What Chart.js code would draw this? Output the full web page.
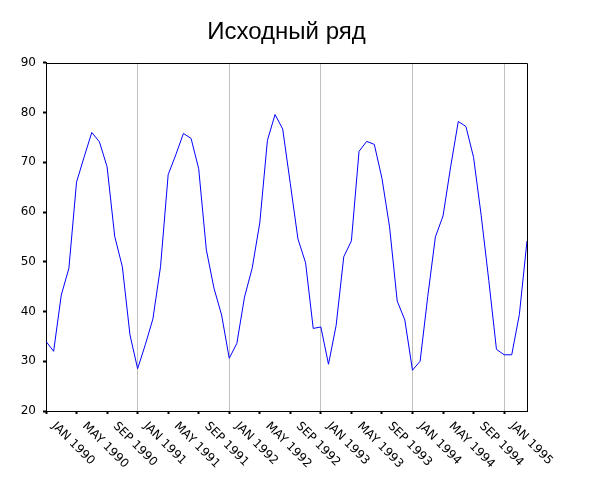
<!DOCTYPE html>
<html>
<head>
<meta charset="utf-8">
<script src="https://cdn.jsdelivr.net/npm/chart.js@4/dist/chart.umd.min.js"></script>
<style>
  html, body { margin: 0; padding: 0; background: #ffffff; }
  #wrap { width: 600px; height: 480px; position: relative; }
</style>
</head>
<body>
<div id="wrap"><canvas id="c"></canvas></div>
<script>
const titleText = 'Исходный ряд';

const months = [
  'JAN 1990','FEB 1990','MAR 1990','APR 1990','MAY 1990','JUN 1990','JUL 1990','AUG 1990','SEP 1990','OCT 1990','NOV 1990','DEC 1990',
  'JAN 1991','FEB 1991','MAR 1991','APR 1991','MAY 1991','JUN 1991','JUL 1991','AUG 1991','SEP 1991','OCT 1991','NOV 1991','DEC 1991',
  'JAN 1992','FEB 1992','MAR 1992','APR 1992','MAY 1992','JUN 1992','JUL 1992','AUG 1992','SEP 1992','OCT 1992','NOV 1992','DEC 1992',
  'JAN 1993','FEB 1993','MAR 1993','APR 1993','MAY 1993','JUN 1993','JUL 1993','AUG 1993','SEP 1993','OCT 1993','NOV 1993','DEC 1993',
  'JAN 1994','FEB 1994','MAR 1994','APR 1994','MAY 1994','JUN 1994','JUL 1994','AUG 1994','SEP 1994','OCT 1994','NOV 1994','DEC 1994',
  'JAN 1995','FEB 1995','MAR 1995','APR 1995'
];

const seriesValues = [
  34.0, 32.0, 43.3, 48.7, 66.0, 71.1, 76.0, 74.1, 69.1, 55.1, 49.0, 35.3,
  28.5, 33.3, 38.5, 49.0, 67.5, 71.5, 75.8, 74.8, 68.7, 52.4, 44.7, 39.3,
  30.6, 33.6, 42.9, 48.7, 57.8, 74.4, 79.6, 76.7, 65.7, 54.6, 49.8, 36.6,
  36.9, 29.4, 37.2, 51.0, 54.2, 72.2, 74.2, 73.6, 66.8, 57.0, 42.1, 38.3,
  28.2, 30.0, 43.0, 55.0, 59.2, 69.1, 78.2, 77.2, 71.0, 59.3, 46.2, 32.4,
  31.3, 31.3, 39.4, 54.2
];

const xTickLabels = ['JAN 1990','MAY 1990','SEP 1990','JAN 1991','MAY 1991','SEP 1991','JAN 1992','MAY 1992','SEP 1992','JAN 1993','MAY 1993','SEP 1993','JAN 1994','MAY 1994','SEP 1994','JAN 1995'];
const yTickLabels = [20, 30, 40, 50, 60, 70, 80, 90];

const TITLE_FONT = '"Liberation Sans", Arial, sans-serif';
const TICK_FONT = '"DejaVu Sans", sans-serif';

const frameAndLabels = {
  id: 'frameAndLabels',
  afterDraw(chart) {
    const { ctx, chartArea } = chart;
    const xs = chart.scales.x;
    ctx.save();
    // top and right frame lines
    ctx.strokeStyle = '#000000';
    ctx.lineWidth = 1;
    ctx.beginPath();
    ctx.moveTo(Math.round(chartArea.left) + 0.5, Math.round(chartArea.top) + 0.5);
    ctx.lineTo(Math.round(chartArea.right) + 0.5, Math.round(chartArea.top) + 0.5);
    ctx.lineTo(Math.round(chartArea.right) + 0.5, Math.round(chartArea.bottom) + 0.5);
    ctx.stroke();
    // rotated x tick labels (reading down-right from each tick)
    ctx.fillStyle = '#000000';
    ctx.font = '12px ' + TICK_FONT;
    ctx.textAlign = 'left';
    ctx.textBaseline = 'top';
    xTickLabels.forEach(lbl => {
      const idx = months.indexOf(lbl);
      const px = xs.getPixelForValue(idx);
      ctx.save();
      ctx.translate(px + 12, chartArea.bottom + 9);
      ctx.rotate(Math.PI / 4);
      ctx.fillText(lbl, 0, 0);
      ctx.restore();
    });
    ctx.restore();
  }
};

new Chart(document.getElementById('c'), {
  type: 'line',
  data: {
    labels: months,
    datasets: [{
      label: titleText,
      data: seriesValues,
      borderColor: '#0000ff',
      borderWidth: 1,
      pointRadius: 0,
      tension: 0,
      fill: false
    }]
  },
  options: {
    responsive: true,
    maintainAspectRatio: false,
    animation: false,
    layout: { padding: { left: 0, right: 73, top: 0, bottom: 69 } },
    plugins: {
      legend: { display: false },
      tooltip: { enabled: false },
      title: {
        display: true,
        fullSize: false,
        text: titleText,
        color: '#000000',
        font: { family: TITLE_FONT, size: 24, weight: 'normal', lineHeight: 1.2 },
        padding: { top: 18, bottom: 16 }
      }
    },
    scales: {
      x: {
        type: 'category',
        offset: false,
        afterFit(scale) { scale.height = 0; },
        ticks: { display: false, autoSkip: false },
        grid: {
          drawOnChartArea: true,
          color: (c) => (c.index % 12 === 0 && c.index > 0) ? '#c0c0c0' : 'rgba(0,0,0,0)',
          tickColor: (c) => (c.index % 4 === 0) ? '#000000' : 'rgba(0,0,0,0)',
          tickLength: 3,
          tickWidth: 2,
          lineWidth: 1
        },
        border: { display: true, color: '#000000', width: 1 }
      },
      y: {
        min: 20,
        max: 90,
        afterFit(scale) { scale.width = 46; },
        afterBuildTicks(scale) { scale.ticks = yTickLabels.map(v => ({ value: v })); },
        ticks: {
          color: '#000000',
          font: { family: TICK_FONT, size: 12 },
          padding: 7,
          stepSize: 10
        },
        grid: {
          drawOnChartArea: false,
          color: '#000000',
          tickColor: '#000000',
          tickLength: 3,
          tickWidth: 2
        },
        border: { display: true, color: '#000000', width: 1 }
      }
    }
  },
  plugins: [frameAndLabels]
});
</script>
</body>
</html>
